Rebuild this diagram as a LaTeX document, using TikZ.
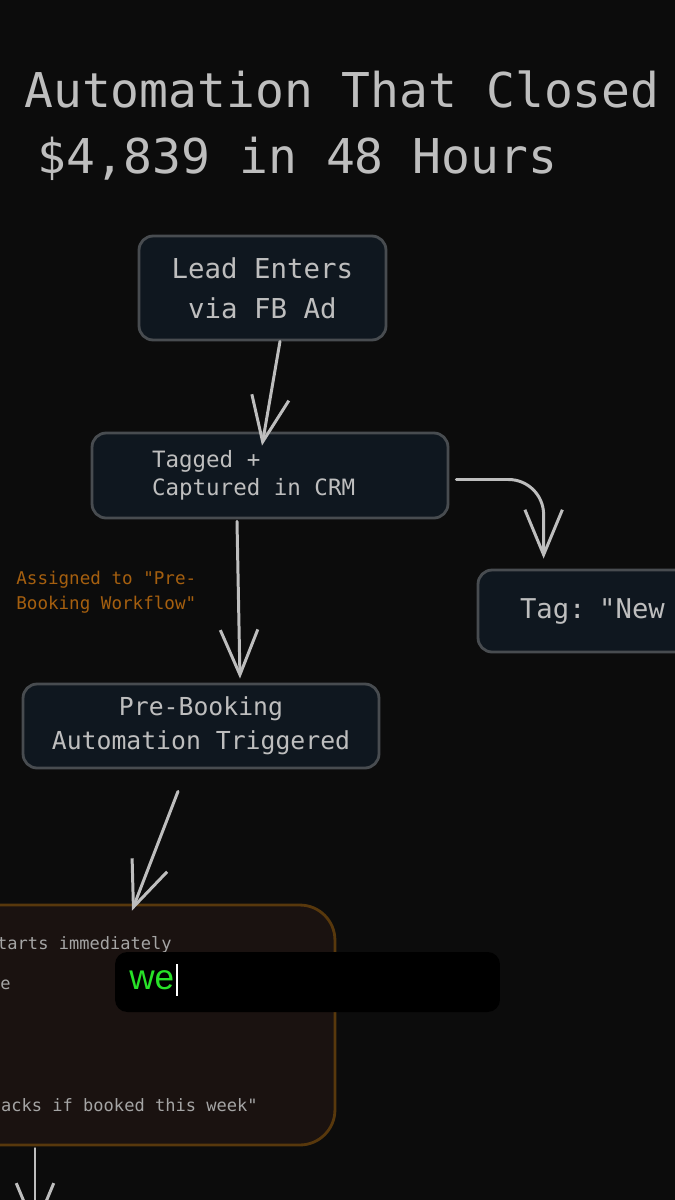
\documentclass[tikz,border=0pt]{standalone}
\usepackage{fontspec}
\setmonofont{DejaVu Sans Mono}
\newfontfamily\uifont{Liberation Sans}
\usetikzlibrary{arrows.meta, positioning, calc}

\definecolor{bgdark}{RGB}{12,12,12}
\definecolor{inkgray}{RGB}{190,190,190}
\definecolor{seqgray}{RGB}{165,165,165}
\definecolor{boxfill}{RGB}{15,23,31}
\definecolor{boxline}{RGB}{72,76,80}
\definecolor{noteorange}{RGB}{165,95,15}
\definecolor{seqfill}{RGB}{26,18,16}
\definecolor{seqline}{RGB}{88,56,12}
\definecolor{typegreen}{RGB}{40,225,40}

\tikzset{
  flowbox/.style={
    draw=boxline,
    fill=boxfill,
    line width=1.6pt,
    rounded corners=8pt,
    text=inkgray,
    align=center,
    inner sep=0pt
  },
  seqtext/.style={
    text=seqgray,
    font=\ttfamily\fontsize{9.7}{12}\selectfont,
    inner sep=0pt
  },
  flow/.style={
    draw=inkgray,
    line width=1.7pt,
    line cap=round,
    line join=round,
    -{Straight Barb[length=0.9cm, width=0.75cm]}
  }
}

\begin{document}
\begin{tikzpicture}[x=0.02cm, y=-0.02cm]
  % Fond
  \fill[bgdark] (0,0) rectangle (675,1200);
  \useasboundingbox (0,0) rectangle (675,1200);
  \clip (0,0) rectangle (675,1200);

  % Titre
  \node[anchor=base west, text=inkgray, font=\ttfamily\fontsize{27.3}{37.5}\selectfont, inner sep=0pt] (title) at (24,107) {Automation That Closed};
  \node[anchor=base west, text=inkgray, font=\ttfamily\fontsize{27.3}{37.5}\selectfont, inner sep=0pt] (subtitle) at (37,173) {\$4,839 in 48 Hours};

  % Etapes
  \node[flowbox, minimum width=4.94cm, minimum height=2.08cm, font=\ttfamily\fontsize{15.6}{22.8}\selectfont] (lead) at (262.5,288) {Lead Enters\\via FB Ad};
  \node[flowbox, minimum width=7.12cm, minimum height=1.70cm, text width=4.72cm, inner xsep=1.2cm, align=left, font=\ttfamily\fontsize{12.8}{15.9}\selectfont] (tagged) at (270,475.5) {\spaceskip=0pt\relax Tagged +\\Captured in CRM};
  \node[flowbox, minimum width=6cm, minimum height=1.64cm, text width=4.32cm, inner xsep=0.84cm, align=left, font=\ttfamily\fontsize{15.5}{19}\selectfont] (tagnew) at (628,611) {\spaceskip=0pt\relax Tag: "New};
  \node[flowbox, minimum width=7.12cm, minimum height=1.68cm, font=\ttfamily\fontsize{14.1}{19.3}\selectfont] (prebook) at (201,726) {Pre-Booking\\Automation Triggered};
  \node[draw=seqline, fill=seqfill, line width=1.6pt, rounded corners=20pt, minimum width=10.7cm, minimum height=4.8cm] (seqbox) at (67.5,1025) {};

  % Texte de la sequence (coupe a gauche)
  \node[seqtext, anchor=east] (seqa) at (172,945) {starts immediately};
  \node[seqtext, anchor=east] (seqb) at (11,985) {e};
  \node[seqtext, anchor=east] (seqc) at (258,1105) {acks if booked this week"};

  % Note
  \node[anchor=west, text=noteorange, align=left, font=\ttfamily\fontsize{10}{14.2}\selectfont, inner sep=0pt] (assigned) at (16,592.5) {\spaceskip=0pt\relax Assigned to "Pre-\\Booking Workflow"};

  % Fleches
  \draw[flow] ($(lead.south)+(17.5,0)$) -- ($(tagged.north)+(-8,14)$);
  \draw[flow, rounded corners=20pt] ($(tagged.east)+(7,4)$) -| ($(tagnew.north west)+(67,-10)$);
  \draw[flow] ($(tagged.south)+(-33,2)$) -- ($(prebook.north)+(39,-4)$);
  \draw[flow] ($(prebook.south)+(-23,22)$) -- ($(seqbox.north)+(64.5,7)$);
  \coordinate (nextstep) at (35,1232);
  \draw[flow] ($(seqbox.south)+(-32.5,2)$) -- (nextstep);

  % Saisie
  \node[fill=black, rounded corners=7pt, minimum width=7.7cm, minimum height=1.2cm] (inputbar) at (307.5,982) {};
  \node[anchor=west, text=typegreen, font=\uifont\fontsize{20}{24}\selectfont, inner sep=0pt] (typed) at (129,980) {we};
  \draw[white, line width=1pt] ($(typed.east)+(2,-16)$) -- ($(typed.east)+(2,16)$);
\end{tikzpicture}
\end{document}
